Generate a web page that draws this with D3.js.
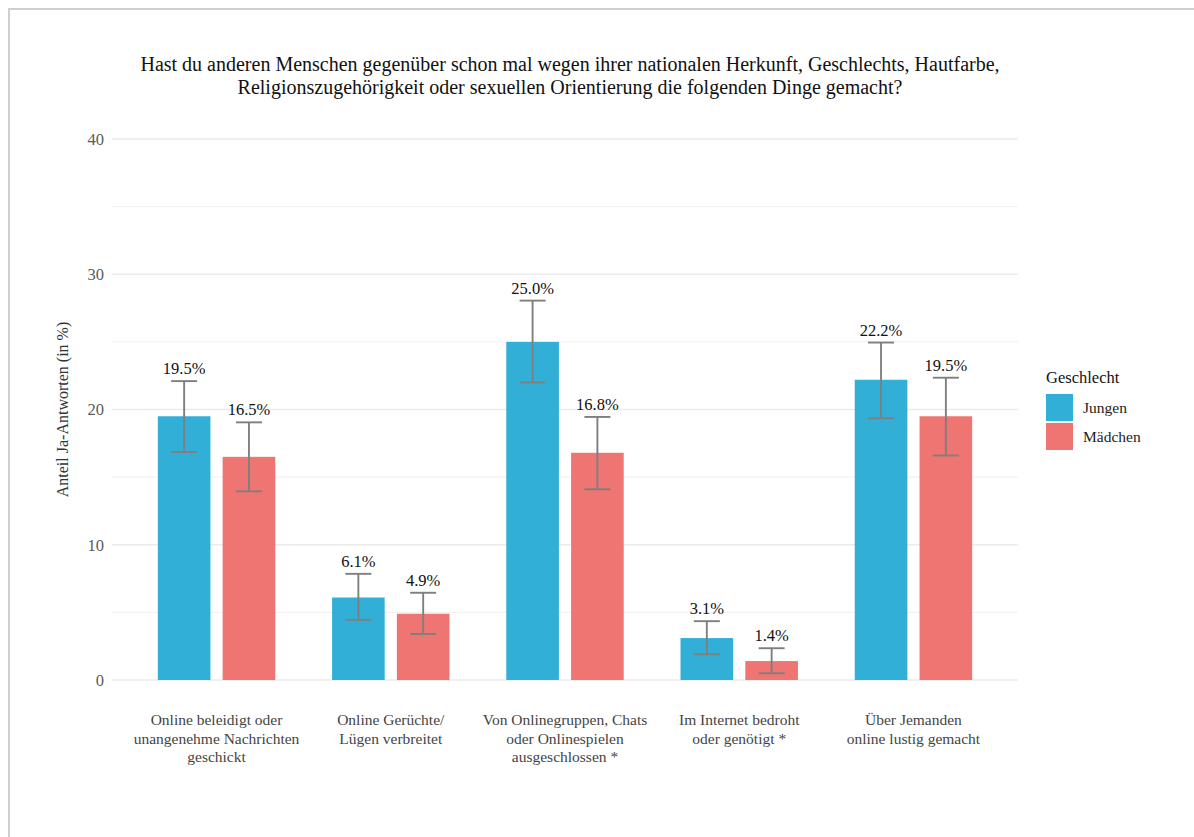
<!DOCTYPE html>
<html>
<head>
<meta charset="utf-8">
<script src="https://cdn.jsdelivr.net/npm/d3@7"></script>
<style>
  html, body { margin: 0; padding: 0; background: #fff; }
  svg { display: block; }
  text { font-family: "Liberation Serif", "Times New Roman", serif; }
</style>
</head>
<body>
<svg id="chart" width="1194" height="837"></svg>
<script>
const titleLines = [
  "Hast du anderen Menschen gegenüber schon mal wegen ihrer nationalen Herkunft, Geschlechts, Hautfarbe,",
  "Religionszugehörigkeit oder sexuellen Orientierung die folgenden Dinge gemacht?"
];
const categories = [
  ["Online beleidigt oder", "unangenehme Nachrichten", "geschickt"],
  ["Online Gerüchte/", "Lügen verbreitet"],
  ["Von Onlinegruppen, Chats", "oder Onlinespielen", "ausgeschlossen *"],
  ["Im Internet bedroht", "oder genötigt *"],
  ["Über Jemanden", "online lustig gemacht"]
];
const series = ["Jungen", "Mädchen"];
const jungenValues = [19.5, 6.1, 25.0, 3.1, 22.2];
const jungenLow    = [16.85, 4.45, 22.0, 1.9, 19.35];
const jungenHigh   = [22.1, 7.85, 28.05, 4.35, 24.95];
const maedchenValues = [16.5, 4.9, 16.8, 1.4, 19.5];
const maedchenLow    = [13.95, 3.4, 14.1, 0.5, 16.6];
const maedchenHigh   = [19.05, 6.45, 19.45, 2.35, 22.35];
const yTicks = [0, 10, 20, 30, 40];
const yMinor = [5, 15, 25, 35];
const colors = ["#32afd6", "#ee7571"];
const yTitle = "Anteil Ja-Antworten (in %)";
const legendTitle = "Geschlecht";

const svg = d3.select("#chart");
const pLeft = 112, pRight = 1018, pTop = 139, pBottom = 680;

// frame lines (top & left)
svg.append("line").attr("x1", 8).attr("x2", 1194).attr("y1", 9).attr("y2", 9)
  .attr("stroke", "#cfcfcf").attr("stroke-width", 2);
svg.append("line").attr("x1", 9).attr("x2", 9).attr("y1", 8).attr("y2", 837)
  .attr("stroke", "#cfcfcf").attr("stroke-width", 2);

const y = d3.scaleLinear().domain([0, 40]).range([pBottom, pTop]);
const idx = categories.map((d, i) => i);
// ggplot-like discrete expansion 0.6 units
const x = d3.scaleLinear().domain([-0.6, categories.length - 1 + 0.6]).range([pLeft, pRight]);
const unit = x(1) - x(0);
const barW = 0.302 * unit;
const offset = 0.186 * unit;

// gridlines
svg.append("g").selectAll("line").data(yMinor).join("line")
  .attr("x1", pLeft).attr("x2", pRight)
  .attr("y1", d => y(d)).attr("y2", d => y(d))
  .attr("stroke", "#ebebeb").attr("stroke-width", 0.8);
svg.append("g").selectAll("line").data(yTicks).join("line")
  .attr("x1", pLeft).attr("x2", pRight)
  .attr("y1", d => y(d)).attr("y2", d => y(d))
  .attr("stroke", "#ebebeb").attr("stroke-width", 1.5);

// y axis via d3.axisLeft
const yAxis = d3.axisLeft(y).tickValues(yTicks).tickSize(0).tickPadding(8);
const gy = svg.append("g").attr("transform", `translate(${pLeft},0)`).call(yAxis);
gy.select(".domain").remove();
gy.attr("font-family", null);
gy.selectAll("text").attr("font-family", "Liberation Serif, Times New Roman, serif")
  .attr("font-size", 16.5).attr("fill", "#5a5a5a");

// y title
svg.append("text")
  .attr("transform", `translate(64,${(pTop + pBottom) / 2}) rotate(-90)`)
  .attr("text-anchor", "middle").attr("dominant-baseline", "middle")
  .attr("font-size", 16).attr("fill", "#333")
  .text(yTitle);

// bars
const data = [];
idx.forEach(i => {
  data.push({ i, s: 0, v: jungenValues[i], lo: jungenLow[i], hi: jungenHigh[i] });
  data.push({ i, s: 1, v: maedchenValues[i], lo: maedchenLow[i], hi: maedchenHigh[i] });
});
const cx = d => x(d.i) + (d.s === 0 ? -offset : offset);

svg.append("g").selectAll("rect").data(data).join("rect")
  .attr("x", d => cx(d) - barW / 2).attr("width", barW)
  .attr("y", d => y(d.v)).attr("height", d => y(0) - y(d.v))
  .attr("fill", d => colors[d.s]);

// error bars
const eb = svg.append("g").attr("stroke", "#7f7f7f").attr("stroke-width", 1.9).attr("fill", "none");
const ww = 13;
eb.selectAll(".v").data(data).join("line").attr("class", "v")
  .attr("x1", cx).attr("x2", cx).attr("y1", d => y(d.lo)).attr("y2", d => y(d.hi));
eb.selectAll(".t").data(data).join("line").attr("class", "t")
  .attr("x1", d => cx(d) - ww).attr("x2", d => cx(d) + ww).attr("y1", d => y(d.hi)).attr("y2", d => y(d.hi));
eb.selectAll(".b").data(data).join("line").attr("class", "b")
  .attr("x1", d => cx(d) - ww).attr("x2", d => cx(d) + ww).attr("y1", d => y(d.lo)).attr("y2", d => y(d.lo));

// value labels
svg.append("g").selectAll("text").data(data).join("text")
  .attr("x", cx).attr("y", d => y(d.hi) - 7)
  .attr("text-anchor", "middle").attr("font-size", 16.5).attr("fill", "#111")
  .text(d => d.v.toFixed(1) + "%");

// x labels
const gx = svg.append("g");
categories.forEach((lines, i) => {
  const t = gx.append("text").attr("text-anchor", "middle")
    .attr("font-size", 15.5).attr("fill", "#444");
  lines.forEach((ln, k) => {
    t.append("tspan").attr("x", x(i)).attr("y", 725 + k * 18.5).text(ln);
  });
});

// title
const tt = svg.append("text").attr("text-anchor", "middle").attr("font-size", 20).attr("fill", "#111");
titleLines.forEach((ln, k) => {
  tt.append("tspan").attr("x", 570).attr("y", 71 + k * 23).text(ln);
});

// legend
const lg = svg.append("g");
lg.append("text").attr("x", 1046).attr("y", 383).attr("font-size", 16.5).attr("fill", "#111").text(legendTitle);
series.forEach((s, k) => {
  lg.append("rect").attr("x", 1046).attr("y", 394 + k * 29).attr("width", 27).attr("height", 27)
    .attr("fill", colors[k]);
  lg.append("text").attr("x", 1083).attr("y", 413 + k * 29).attr("font-size", 15.5).attr("fill", "#222").text(s);
});
</script>
</body>
</html>
